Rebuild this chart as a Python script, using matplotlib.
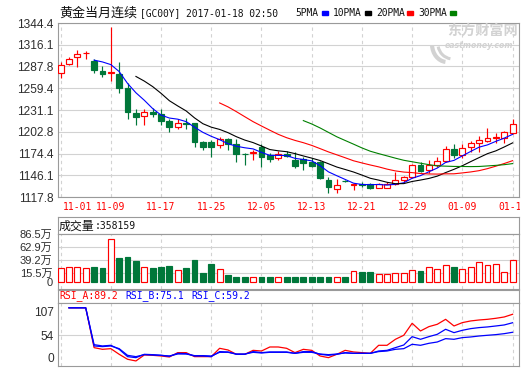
import matplotlib
matplotlib.use('Agg')
import matplotlib.pyplot as plt
import numpy as np
import pandas as pd
from matplotlib.patches import Arc

# ---------------- data ----------------
date_labels = ['11-01', '11-09', '11-17', '11-25', '12-05', '12-13', '12-21', '12-29', '01-09', '01-17']
date_pos = [0, 6, 12, 18, 24, 30, 36, 42, 48, 54]

opens = [1279.5, 1291.1, 1300.2, 1304.8, 1295.4, 1282.5, 1279.5, 1278.6, 1259.2, 1227.7,
         1223.8, 1229.0, 1225.5, 1216.9, 1209.6, 1213.6, 1213.9, 1189.9, 1189.9, 1185.5,
         1193.3, 1186.8, 1173.8, 1175.4, 1182.3, 1172.5, 1168.2, 1174.2, 1166.0, 1166.9,
         1163.8, 1163.8, 1140.0, 1127.8, 1139.0, 1133.8, 1134.4, 1134.3, 1130.0, 1130.0,
         1134.3, 1139.5, 1143.4, 1159.2, 1152.5, 1159.5, 1165.1, 1179.9, 1172.5, 1182.5,
         1188.6, 1191.2, 1194.9, 1195.1, 1200.7]
highs = [1293.3, 1299.7, 1309.7, 1308.4, 1297.6, 1288.1, 1339.6, 1293.7, 1265.7, 1232.0,
         1232.0, 1234.2, 1232.9, 1219.9, 1219.1, 1221.2, 1214.7, 1190.7, 1192.0, 1196.4,
         1194.2, 1193.5, 1174.7, 1178.5, 1186.5, 1174.7, 1178.1, 1177.7, 1176.8, 1170.3,
         1168.2, 1164.7, 1144.3, 1140.8, 1140.0, 1136.0, 1137.8, 1135.6, 1135.6, 1137.0,
         1151.0, 1145.6, 1160.5, 1163.8, 1166.0, 1169.5, 1184.2, 1186.8, 1186.8, 1191.2,
         1197.2, 1208.1, 1200.7, 1204.2, 1219.2]
lows = [1273.0, 1289.8, 1287.2, 1297.6, 1279.5, 1274.3, 1268.7, 1252.7, 1219.0, 1211.3,
        1211.3, 1222.1, 1211.3, 1202.7, 1207.0, 1206.1, 1182.4, 1179.0, 1170.3, 1181.2,
        1179.0, 1163.0, 1160.0, 1166.5, 1157.3, 1163.8, 1166.0, 1170.3, 1156.0, 1153.0,
        1156.4, 1140.8, 1123.5, 1123.5, 1137.5, 1127.0, 1131.3, 1128.6, 1129.1, 1129.1,
        1134.0, 1137.8, 1142.1, 1150.0, 1149.0, 1157.3, 1163.8, 1168.2, 1168.2, 1176.8,
        1176.8, 1189.9, 1187.7, 1187.7, 1199.4]
closes = [1289.4, 1297.6, 1304.5, 1305.8, 1282.9, 1277.7, 1280.2, 1259.2, 1228.5, 1222.1,
          1229.0, 1226.0, 1216.9, 1209.1, 1214.7, 1213.2, 1189.7, 1183.3, 1183.3, 1192.9,
          1186.8, 1173.4, 1173.2, 1175.9, 1170.3, 1167.3, 1173.4, 1171.6, 1158.2, 1162.5,
          1158.6, 1142.1, 1131.3, 1133.0, 1138.3, 1134.3, 1133.6, 1130.0, 1134.3, 1134.3,
          1139.9, 1143.3, 1159.2, 1151.6, 1159.2, 1164.2, 1179.9, 1172.5, 1181.2, 1188.0,
          1192.0, 1194.6, 1195.6, 1202.0, 1212.7]

# volume in units of 万 (10k)
volume = [25.5, 26.7, 26.7, 25.5, 27.3, 25.5, 77.5, 43.6, 45.4, 38.2,
          26.7, 25.5, 27.3, 29.1, 21.2, 25.5, 40.0, 16.4, 32.7, 23.0,
          12.2, 9.1, 9.1, 8.5, 9.1, 9.1, 8.5, 9.1, 9.1, 9.1,
          9.1, 9.1, 9.1, 7.9, 9.1, 19.4, 17.6, 17.6, 13.4, 13.4,
          15.2, 15.2, 21.2, 19.4, 26.1, 23.0, 30.3, 26.7, 23.0, 26.1,
          35.1, 30.3, 31.5, 17.6, 39.4]

nan = np.nan
rsi_a = [nan, 100, 100, 100, 33.6, 30.8, 31.9, 22.5, 14.2, 11.4, 21.4, 20.8, 19.7, 18.0, 25.3,
         25.3, 18.6, 18.6, 18.6, 32.5, 29.7, 22.5, 22.5, 29.1, 28.0, 34.7, 34.7, 32.5, 25.3,
         30.8, 29.1, 19.7, 16.9, 22.5, 29.1, 26.4, 25.3, 24.1, 37.5, 37.5, 47.5, 54.2, 74.2,
         61.4, 68.6, 72.5, 80.8, 69.7, 75.3, 78.1, 79.7, 80.8, 82.5, 84.7, 89.2]
rsi_b = [nan, 100, 100, 100, 38.6, 36.4, 37.5, 30.8, 18.6, 16.9, 22.5, 21.9, 20.8, 19.2, 24.1,
         23.6, 19.7, 19.7, 18.6, 27.0, 26.4, 22.5, 22.5, 27.0, 25.3, 26.4, 26.4, 26.4, 24.1,
         27.0, 27.0, 22.5, 20.8, 22.5, 25.3, 24.1, 24.1, 24.1, 28.0, 29.1, 33.6, 38.0, 51.9,
         47.5, 51.9, 55.8, 64.2, 58.6, 62.5, 65.3, 67.0, 68.1, 69.7, 71.4, 75.1]
rsi_c = [nan, 100, 100, 100, 36.4, 35.3, 36.4, 31.9, 20.8, 18.6, 21.9, 21.4, 20.8, 19.7, 23.0,
         23.0, 20.3, 20.3, 19.7, 25.8, 25.8, 23.0, 23.0, 25.8, 24.7, 25.8, 25.8, 25.8, 24.1,
         25.8, 25.8, 23.0, 21.9, 23.0, 24.7, 24.1, 24.1, 24.1, 27.0, 28.0, 30.8, 31.9, 39.2,
         37.5, 40.8, 43.0, 48.6, 47.5, 50.3, 51.4, 53.0, 54.2, 55.3, 56.9, 59.2]

price_ticks = [1117.8, 1146.1, 1174.4, 1202.8, 1231.1, 1259.4, 1287.8, 1316.1, 1344.4]
vol_ticks = [0, 15.5, 39.2, 62.9, 86.5]
vol_tick_labels = ['0', '15.5万', '39.2万', '62.9万', '86.5万']
ma_periods = [5, 10, 20, 30]
ma_names = ['5PMA', '10PMA', '20PMA', '30PMA']

# ---------------- style ----------------
W, H = 524, 369
RED = '#FF0000'
GREEN = '#00773A'
BLUE = '#0000FF'
FR = '#9A9A9A'
GRID = '#D2D2D2'
TXT = '#2E2E2E'
WM = '#D2D2D2'
ma_colors = [BLUE, '#000000', RED, '#008000']
MONO = 'DejaVu Sans Mono'
CJK = 'Noto Sans CJK SC'
NUM = ['Liberation Sans', CJK]

fig = plt.figure(figsize=(W / 100, H / 100), dpi=100)


def rect(x0, y0, x1, y1):
    return [x0 / W, 1 - y1 / H, (x1 - x0) / W, (y1 - y0) / H]


X0, DX = 60.6, 8.37


def xlim_for(px0, px1):
    return ((px0 - X0) / DX, (px1 - X0) / DX)


def style(ax, px0=58, px1=519):
    ax.set_xlim(*xlim_for(px0, px1))
    for s in ax.spines.values():
        s.set_color(FR)
        s.set_linewidth(0.8)
    ax.tick_params(length=0)
    ax.set_xticks([])


def vgrid(ax):
    for p in date_pos:
        ax.axvline(p, color=GRID, lw=0.8, ls=(0, (3, 3)), zorder=0)


n = len(closes)
x = np.arange(n)
o = np.array(opens)
c = np.array(closes)
up = c >= o
cols = [RED if u else GREEN for u in up]
faces = ['white' if u else GREEN for u in up]

# ---------------- main candle panel ----------------
ax = fig.add_axes(rect(58, 23, 519, 197))
style(ax)
ax.set_ylim(price_ticks[0], price_ticks[-1])
ax.set_yticks(price_ticks)
ax.set_yticklabels([f'{t:.1f}' for t in price_ticks], family=NUM, fontsize=8.6, color=TXT)
ax.tick_params(axis='y', pad=3)
for t in price_ticks:
    ax.axhline(t, color=GRID, lw=0.8, zorder=0)
vgrid(ax)

ax.vlines(x, lows, highs, colors=cols, lw=0.85, zorder=2)
body_h = np.maximum(np.abs(c - o), 0.3)
ax.bar(x, body_h, bottom=np.minimum(o, c), width=0.7, color=faces, edgecolor=cols,
       linewidth=0.85, zorder=3)

close_s = pd.Series(closes)
for per, col in zip(ma_periods, ma_colors):
    ax.plot(x, close_s.rolling(per).mean(), color=col, lw=0.8, zorder=4)

# date labels (last one is cut by the panel edge, as in the original)
axd = fig.add_axes(rect(58, 198, 520, 216))
axd.set_xlim(*xlim_for(58, 520))
axd.set_ylim(0, 1)
axd.axis('off')
for k, (p, lab) in enumerate(zip(date_pos, date_labels)):
    axd.text(p + (0.23 if k == 0 else 0), 0.5, lab, ha='left' if k == 0 else 'center',
             va='center', color=RED, family=MONO, fontsize=7.0, clip_on=True)

# title and legend
fig.text(59 / W, 1 - 13 / H, '黄金当月连续', family=CJK, fontsize=9.4, color='#111111',
         ha='left', va='center')
fig.text(139.5 / W, 1 - 13 / H, '[GC00Y] 2017-01-18 02:50', family=MONO, fontsize=6.9,
         color='#111111', ha='left', va='center')
leg_x = [295, 333, 376, 418]
sq_x = [322, 365, 407, 450]
for name, col, lx, sx in zip(ma_names, ma_colors, leg_x, sq_x):
    fig.text(lx / W, 1 - 13 / H, name, family=MONO, fontsize=6.9, color='#111111',
             ha='left', va='center')
    fig.patches.append(plt.Rectangle((sx / W, 1 - 14.5 / H), 6 / W, 3.5 / H,
                                     transform=fig.transFigure, color=col, figure=fig))

# watermark (transparent overlay in pixel coordinates, above the chart)
axw = fig.add_axes([0, 0, 1, 1], zorder=10)
axw.set_xlim(0, W)
axw.set_ylim(H, 0)
axw.axis('off')
axw.add_patch(Arc((447, 44), 30, 36, theta1=95, theta2=175, color=WM, lw=3.0))
axw.add_patch(Arc((453, 44), 30, 30, theta1=100, theta2=170, color=WM, lw=2.2))
axw.text(447, 30.5, '东方财富网', family=CJK, fontsize=10.2, weight='bold',
         color=WM, ha='left', va='center')
axw.text(445, 45.5, 'eastmoney.com', family='DejaVu Sans', fontsize=5.6,
         weight='bold', style='italic', color=WM, ha='left', va='center')

# ---------------- volume panel ----------------
axvh = fig.add_axes(rect(58, 217, 519, 234.3))
style(axvh)
axvh.set_yticks([])
fig.text(59 / W, 1 - 225.7 / H, '成交量', family=CJK, fontsize=8.6, color='#111111',
         ha='left', va='center')
fig.text(95 / W, 1 - 225.7 / H, ':358159', family=MONO, fontsize=7.0, color='#111111',
         ha='left', va='center')

axv = fig.add_axes(rect(58, 234.3, 519, 289))
style(axv)
axv.set_ylim(-13.3, 86.5)
axv.set_yticks(vol_ticks)
axv.set_yticklabels(vol_tick_labels, family=NUM, fontsize=8.0, color=TXT)
axv.tick_params(axis='y', pad=4)
for t in vol_ticks[1:]:
    axv.axhline(t, color=GRID, lw=0.8, zorder=0)
vgrid(axv)
axv.bar(x, volume, width=0.7, color=faces, edgecolor=cols, linewidth=0.85, zorder=3)

# ---------------- RSI panel ----------------
axrh = fig.add_axes(rect(58, 289.8, 519, 302.7))
style(axrh)
axrh.set_yticks([])
fig.text(59.3 / W, 1 - 296 / H, f'RSI_A:{rsi_a[-1]:.1f}', family=MONO, fontsize=7.0,
         color=RED, ha='left', va='center')
fig.text(125 / W, 1 - 296 / H, f'RSI_B:{rsi_b[-1]:.1f}', family=MONO, fontsize=7.0,
         color=BLUE, ha='left', va='center')
fig.text(191.7 / W, 1 - 296 / H, f'RSI_C:{rsi_c[-1]:.1f}', family=MONO, fontsize=7.0,
         color=BLUE, ha='left', va='center')

axr = fig.add_axes(rect(58, 302.7, 519, 366))
style(axr)
axr.set_ylim(3.0, 108.5)
axr.set_yticks([17.5, 54, 93.5])
axr.set_yticklabels(['0', '54', '107'], family=NUM, fontsize=8.6, color=TXT)
axr.tick_params(axis='y', pad=3)
axr.axhline(54, color=GRID, lw=0.8, zorder=0)
vgrid(axr)
axr.plot(x, rsi_a, color=RED, lw=0.9, zorder=3)
axr.plot(x, rsi_b, color=BLUE, lw=0.9, zorder=4)
axr.plot(x, rsi_c, color=BLUE, lw=0.9, zorder=4)

fig.savefig('out.png', dpi=100)
